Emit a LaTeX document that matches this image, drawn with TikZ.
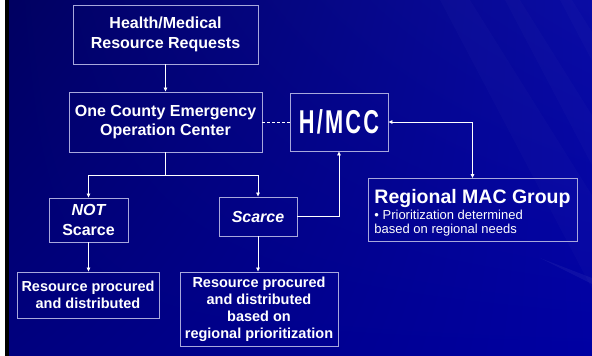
\documentclass[tikz,border=0pt]{standalone}
\usepackage{fontspec}
\setmainfont{Liberation Sans}
\usepackage{xcolor}
\usepackage{graphicx}
\usetikzlibrary{arrows.meta, shadings}

\definecolor{bgul}{HTML}{000060}
\definecolor{bgur}{HTML}{0A0CA4}
\definecolor{bgll}{HTML}{00007E}
\definecolor{bglr}{HTML}{0000A2}
\definecolor{boxline}{HTML}{A8A8DC}

\begin{document}
\begin{tikzpicture}[x=1pt, y=-1pt,
    box/.style={draw=boxline, line width=0.9pt, inner sep=0pt, align=center,
      text=white, font=\fontsize{16}{19.5}\selectfont\bfseries},
    small/.style={font=\fontsize{14.5}{17}\selectfont\bfseries},
    conn/.style={draw=white, line width=0.7pt, -{Triangle[length=4pt, width=3.5pt]}},
    biconn/.style={conn, {Triangle[length=4pt, width=3.5pt]}-{Triangle[length=4pt, width=3.5pt]}},
    link/.style={draw=white, line width=0.7pt},
    dashlink/.style={link, dash pattern=on 3pt off 2pt}]
  \useasboundingbox (0,0) rectangle (592,356);
  % background
  \shade[upper left=bgul, upper right=bgur, lower left=bgll, lower right=bglr]
    (0,0) rectangle (592,356);
  \foreach \xa/\xb/\xc/\xd in {440/470/592/592, 505/520/592/592, 560/572/592/592} {
    \fill[white, opacity=0.02] (\xa,0) -- (\xb,0) -- (\xc,{(\xc-\xb)*1.6}) -- (\xd,{(\xd-\xa)*1.9}) -- cycle;
  }
  \fill[white, opacity=0.05] (540,258) -- (592,278) -- (592,284) -- cycle;
  \fill[white] (0,0) rectangle (5,356);
  \fill[black] (5,0) rectangle (9,356);

  % boxes
  \node[box, minimum width=185pt, minimum height=59pt] (health) at (165.5,34.5)
    {Health/Medical\\Resource Requests};
  \node[box, minimum width=193pt, minimum height=60pt] (oceoc) at (165.5,122)
    {One County Emergency\\Operation Center};
  \node[box, minimum width=98pt, minimum height=58pt] (hmcc) at (339,122)
    {\fontsize{33}{33}\selectfont\addfontfeature{LetterSpace=10}\scalebox{0.66}[1]{H/MCC}};
  \node[box, minimum width=79pt, minimum height=44pt] (notscarce) at (88.5,220)
    {\itshape NOT\\Scarce};
  \node[box, minimum width=78pt, minimum height=39pt] (scarce) at (258,216.5)
    {\itshape Scarce};
  \node[box, small, minimum width=142pt, minimum height=46pt] (res1) at (88,295)
    {Resource procured\\and distributed};
  \node[box, small, minimum width=158pt, minimum height=74pt] (res2) at (259,309)
    {Resource procured\\and distributed\\based on\\regional prioritization};
  \node[box, minimum width=209pt, minimum height=63pt, align=left,
      font=\fontsize{13}{14}\selectfont] (regional) at (472.5,210)
    {{\fontsize{19.5}{20}\selectfont\bfseries\rule{0pt}{20pt}Regional MAC Group}\\[2pt]
     \textbullet\ Prioritization determined\\
     based on regional needs};

  % connectors
  \coordinate (split) at (165.5,175);
  \draw[conn] (health) -- (oceoc);
  \draw[dashlink] (oceoc) -- (hmcc);
  \draw[link] (oceoc.south) -- (split);
  \draw[conn] (split) -| (notscarce.north);
  \draw[conn] (split) -| (scarce.north);
  \draw[conn] (notscarce.south) -- (notscarce.south |- res1.north);
  \draw[conn] (scarce.south) -- (scarce.south |- res2.north);
  \draw[conn] (scarce.east) -| (hmcc.south);
  \draw[biconn] (hmcc.east) -| (regional.north);
\end{tikzpicture}
\end{document}
